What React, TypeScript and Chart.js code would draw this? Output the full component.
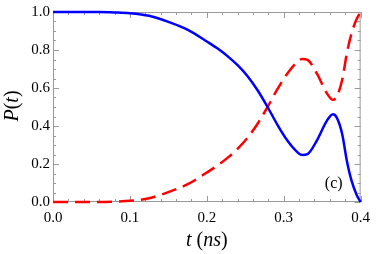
import { useEffect, useRef } from 'react';
import { Chart, registerables } from 'chart.js';

Chart.register(...registerables);

const times = [0, 0.02, 0.04, 0.06, 0.08, 0.1, 0.125, 0.15, 0.176, 0.2, 0.215, 0.228, 0.24, 0.253, 0.266, 0.279, 0.292, 0.305, 0.317, 0.324, 0.331, 0.343, 0.356, 0.364, 0.369, 0.376, 0.382, 0.388, 0.395, 0.4];
const blueP = [1, 1, 1, 1, 0.998, 0.994, 0.98, 0.948, 0.905, 0.845, 0.805, 0.764, 0.72, 0.662, 0.588, 0.5, 0.405, 0.322, 0.265, 0.247, 0.252, 0.323, 0.427, 0.462, 0.444, 0.358, 0.219, 0.115, 0.036, 0];
const redP = [0, 0, 0, 0, 0.002, 0.006, 0.02, 0.052, 0.095, 0.155, 0.195, 0.236, 0.28, 0.338, 0.412, 0.5, 0.595, 0.678, 0.735, 0.753, 0.748, 0.677, 0.573, 0.538, 0.556, 0.642, 0.781, 0.885, 0.964, 1];
const xTickValues = [0, 0.1, 0.2, 0.3, 0.4];
const yTickValues = [0, 0.2, 0.4, 0.6, 0.8, 1.0];
const panelLabel = '(c)';

const SERIF = '"Liberation Serif"';

type Seg = { text: string; italic: boolean };

function drawSegs(ctx: CanvasRenderingContext2D, segs: Seg[], size: number, cx: number, cy: number) {
  let total = 0;
  const widths = segs.map((s) => {
    ctx.font = `${s.italic ? 'italic ' : ''}${size}px ${SERIF}`;
    const w = ctx.measureText(s.text).width;
    total += w;
    return w;
  });
  let x = cx - total / 2;
  ctx.textBaseline = 'middle';
  ctx.textAlign = 'left';
  segs.forEach((s, i) => {
    ctx.font = `${s.italic ? 'italic ' : ''}${size}px ${SERIF}`;
    ctx.fillText(s.text, x, cy);
    x += widths[i];
  });
}

const framePlugin = {
  id: 'frame',
  beforeDatasetsDraw(chart: any) {
    const { ctx, chartArea: a, scales } = chart;
    const xs = scales.x;
    const ys = scales.y;
    ctx.save();
    ctx.strokeStyle = '#9a9a9a';
    ctx.lineWidth = 1;
    ctx.strokeRect(a.left + 0.5, a.top + 0.5, a.right - a.left - 1, a.bottom - a.top - 1);
    ctx.beginPath();
    for (let i = 0; i <= 20; i++) {
      const v = i * 0.02;
      const px = Math.round(xs.getPixelForValue(v)) + 0.5;
      const len = i % 5 === 0 ? 6 : 3;
      ctx.moveTo(px, a.bottom);
      ctx.lineTo(px, a.bottom - len);
      ctx.moveTo(px, a.top);
      ctx.lineTo(px, a.top + len);
    }
    for (let i = 0; i <= 20; i++) {
      const v = i * 0.05;
      const py = Math.round(ys.getPixelForValue(v)) + 0.5;
      const len = i % 4 === 0 ? 6 : 3;
      ctx.moveTo(a.left, py);
      ctx.lineTo(a.left + len, py);
      ctx.moveTo(a.right, py);
      ctx.lineTo(a.right - len, py);
    }
    ctx.stroke();
    ctx.restore();
  },
  afterDraw(chart: any) {
    const { ctx, chartArea: a, scales } = chart;
    ctx.save();
    ctx.fillStyle = '#000';
    drawSegs(
      ctx,
      [
        { text: 't', italic: true },
        { text: ' (', italic: false },
        { text: 'ns', italic: true },
        { text: ')', italic: false },
      ],
      20,
      (a.left + a.right) / 2,
      241
    );
    ctx.save();
    ctx.translate(13, (a.top + a.bottom) / 2 - 1);
    ctx.rotate(-Math.PI / 2);
    drawSegs(
      ctx,
      [
        { text: 'P', italic: true },
        { text: '(', italic: false },
        { text: 't', italic: true },
        { text: ')', italic: false },
      ],
      20,
      0,
      0
    );
    ctx.restore();
    drawSegs(ctx, [{ text: panelLabel, italic: false }], 16, scales.x.getPixelForValue(0.365), scales.y.getPixelForValue(0.095));
    ctx.restore();
  },
};

export default function App() {
  const ref = useRef<HTMLCanvasElement | null>(null);
  useEffect(() => {
    document.body.style.margin = '0';
    const chart = new Chart(ref.current!, {
      type: 'line',
      data: {
        datasets: [
          {
            data: times.map((t, i) => ({ x: t, y: blueP[i] })),
            borderColor: '#0000ff',
            borderWidth: 2.5,
            pointRadius: 0,
            cubicInterpolationMode: 'monotone',
            clip: false as any,
          },
          {
            data: times.map((t, i) => ({ x: t, y: redP[i] })),
            borderColor: '#ff0000',
            borderWidth: 2.5,
            borderDash: [15, 7],
            pointRadius: 0,
            cubicInterpolationMode: 'monotone',
            clip: false as any,
          },
        ],
      },
      options: {
        responsive: false,
        animation: false,
        layout: { padding: { top: 10, right: 13, left: 0, bottom: 0 } },
        plugins: { legend: { display: false }, tooltip: { enabled: false } },
        scales: {
          x: {
            type: 'linear',
            min: 0,
            max: 0.4,
            afterFit: (s: any) => {
              s.height = 52;
            },
            afterBuildTicks: (s: any) => {
              s.ticks = xTickValues.map((v) => ({ value: v }));
            },
            grid: { display: false, drawTicks: false },
            border: { display: false },
            ticks: {
              autoSkip: false,
              maxRotation: 0,
              padding: 7,
              color: '#000',
              font: { family: SERIF, size: 15 },
              callback: (v: any) => Number(v).toFixed(1),
            },
          },
          y: {
            type: 'linear',
            min: 0,
            max: 1,
            afterFit: (s: any) => {
              s.width = 53;
            },
            afterBuildTicks: (s: any) => {
              s.ticks = yTickValues.map((v) => ({ value: v }));
            },
            grid: { display: false, drawTicks: false },
            border: { display: false },
            ticks: {
              autoSkip: false,
              padding: 3,
              color: '#000',
              font: { family: SERIF, size: 15 },
              callback: (v: any) => Number(v).toFixed(1),
            },
          },
        },
      },
      plugins: [framePlugin],
    } as any);
    return () => chart.destroy();
  }, []);
  return (
    <div style={{ position: 'fixed', left: 0, top: 0, width: 377, height: 254 }}>
      <canvas ref={ref} width={377} height={254} style={{ width: 377, height: 254, display: 'block' }} />
    </div>
  );
}
